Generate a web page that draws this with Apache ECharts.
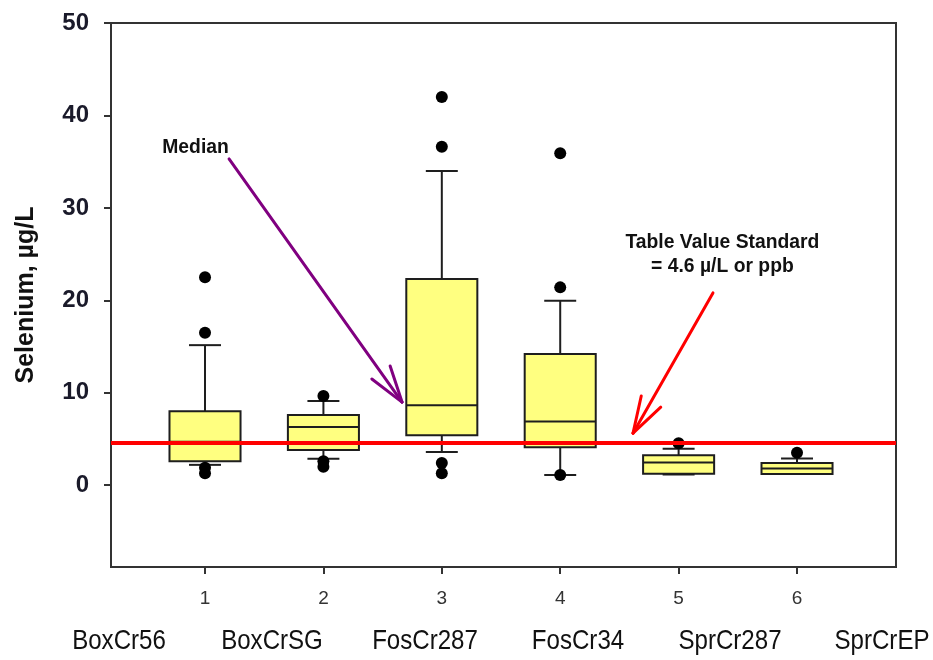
<!DOCTYPE html>
<html>
<head>
<meta charset="utf-8">
<script src="https://cdn.jsdelivr.net/npm/echarts@6/dist/echarts.min.js"></script>
<style>
  html, body { margin: 0; padding: 0; background: #ffffff; }
  #chart { width: 933px; height: 660px; }
</style>
</head>
<body>
<div id="chart"></div>
<script>
// Sampling sites and x tick labels
const tickLabels = ['1', '2', '3', '4', '5', '6'];
const sites = ['BoxCr56', 'BoxCrSG', 'FosCr287', 'FosCr34', 'SprCr287', 'SprCrEP'];

// Box summaries per site (µg/L)
const lowerWhisker = [2.2, 2.85, 3.6, 1.1, 1.15, 1.2];
const q1 = [2.6, 3.8, 5.4, 4.1, 1.25, 1.2];
const median = [4.7, 6.3, 8.65, 6.9, 2.45, 1.8];
const q3 = [8.0, 7.6, 22.3, 14.2, 3.25, 2.4];
const upperWhisker = [15.15, 9.1, 34.0, 19.95, 3.95, 2.9];

// Outlying samples per site (µg/L)
const outliers = [
  [22.5, 16.5, 1.9, 1.3],
  [9.65, 2.6, 2.0],
  [42.0, 36.6, 2.4, 1.3],
  [35.9, 21.4, 1.1],
  [4.55],
  [3.5]
];

// Table value standard (µg/L)
const standard = 4.6;

const yTicks = [0, 10, 20, 30, 40, 50];

// Callout arrows and their captions, placed in data units
const arrows = [
  { from: [1.203, 35.3], to: [2.664, 8.99], color: '#800080' },
  { from: [5.29, 20.8], to: [4.615, 5.63], color: '#ff0000' }
];
const notes = [
  { text: 'Median', at: [0.92, 36.6] },
  { text: 'Table Value Standard', at: [5.37, 26.3] },
  { text: '= 4.6 µ/L or ppb', at: [5.37, 23.7] }
];

const boxData = sites.map((s, i) => [i + 1, lowerWhisker[i], q1[i], median[i], q3[i], upperWhisker[i]]);
const outlierData = [];
outliers.forEach((vals, i) => vals.forEach(v => outlierData.push([i + 1, v])));

const ink = '#1e1e1e';

function renderBox(params, api) {
  const x = api.value(0);
  const lo = api.coord([x, api.value(1)]);
  const b1 = api.coord([x, api.value(2)]);
  const md = api.coord([x, api.value(3)]);
  const b3 = api.coord([x, api.value(4)]);
  const hi = api.coord([x, api.value(5)]);
  const unit = api.size([1, 0])[0];
  const bw = unit * 0.6;
  const cw = unit * 0.27;
  const cx = lo[0];
  const ls = { stroke: ink, lineWidth: 2 };
  return {
    type: 'group',
    children: [
      { type: 'line', shape: { x1: cx, y1: hi[1], x2: cx, y2: b3[1] }, style: ls },
      { type: 'line', shape: { x1: cx - cw / 2, y1: hi[1], x2: cx + cw / 2, y2: hi[1] }, style: ls },
      { type: 'line', shape: { x1: cx, y1: b1[1], x2: cx, y2: lo[1] }, style: ls },
      { type: 'line', shape: { x1: cx - cw / 2, y1: lo[1], x2: cx + cw / 2, y2: lo[1] }, style: ls },
      { type: 'rect', shape: { x: cx - bw / 2, y: b3[1], width: bw, height: b1[1] - b3[1] },
        style: { fill: '#ffff80', stroke: ink, lineWidth: 2 } },
      { type: 'line', shape: { x1: cx - bw / 2, y1: md[1], x2: cx + bw / 2, y2: md[1] }, style: ls }
    ]
  };
}

function renderArrow(params, api) {
  const a = arrows[params.dataIndex];
  const p0 = api.coord(a.from);
  const p1 = api.coord(a.to);
  const ang = Math.atan2(p1[1] - p0[1], p1[0] - p0[0]);
  const len = 38, spread = 0.3;
  const barb = s => [p1[0] - len * Math.cos(ang + s), p1[1] - len * Math.sin(ang + s)];
  const st = { stroke: a.color, lineWidth: 3, lineCap: 'round' };
  const l = barb(spread), r = barb(-spread);
  return {
    type: 'group',
    children: [
      { type: 'line', shape: { x1: p0[0], y1: p0[1], x2: p1[0], y2: p1[1] }, style: st },
      { type: 'line', shape: { x1: l[0], y1: l[1], x2: p1[0], y2: p1[1] }, style: st },
      { type: 'line', shape: { x1: r[0], y1: r[1], x2: p1[0], y2: p1[1] }, style: st }
    ]
  };
}

function renderNote(params, api) {
  const n = notes[params.dataIndex];
  const p = api.coord(n.at);
  return {
    type: 'text', x: p[0], y: p[1], scaleX: 0.92,
    style: {
      text: n.text, fill: '#111', align: 'center', verticalAlign: 'middle',
      font: 'bold 21px "Liberation Sans", Arial, sans-serif'
    }
  };
}

const chart = echarts.init(document.getElementById('chart'), null, { renderer: 'canvas' });

const labelFont = '"Liberation Sans Narrow", "Arial Narrow", "Liberation Sans", sans-serif';
// Site names spread along the bottom edge, horizontally condensed
const siteCenters = [119, 272, 425, 578, 730, 882];

chart.setOption({
  animation: false,
  backgroundColor: '#ffffff',
  grid: {
    left: 111, right: 37, top: 23, bottom: 93,
    show: true, borderColor: '#333', borderWidth: 2, backgroundColor: 'transparent'
  },
  xAxis: {
    type: 'value', min: 0.206, max: 6.836,
    splitLine: { show: false },
    axisLine: { show: true, onZero: false, lineStyle: { color: '#333', width: 2 } },
    axisTick: { show: true, length: 7, lineStyle: { color: '#333', width: 2 }, customValues: [1, 2, 3, 4, 5, 6] },
    axisLabel: {
      customValues: [1, 2, 3, 4, 5, 6],
      formatter: v => tickLabels[Math.round(v) - 1],
      margin: 22, color: '#333', fontSize: 19, fontFamily: labelFont
    }
  },
  yAxis: {
    type: 'value', min: -8.85, max: 50,
    name: 'Selenium, µg/L', nameLocation: 'middle', nameGap: 72, nameRotate: 90,
    nameTextStyle: { fontSize: 25, fontWeight: 'bold', color: '#111', fontFamily: '"Liberation Sans", Arial, sans-serif' },
    splitLine: { show: false },
    axisLine: { show: true, onZero: false, lineStyle: { color: '#333', width: 2 } },
    axisTick: { show: true, length: 7, lineStyle: { color: '#333', width: 2 }, customValues: yTicks },
    axisLabel: {
      customValues: yTicks, margin: 22,
      fontSize: 24, fontWeight: 'bold', color: '#1a1a2a', fontFamily: '"Liberation Sans", Arial, sans-serif'
    }
  },
  graphic: sites.map((s, i) => ({
    type: 'text', x: siteCenters[i], y: 641, scaleX: 0.86,
    style: { text: s, fill: '#111', align: 'center', verticalAlign: 'middle', font: '28px ' + labelFont }
  })),
  series: [
    { type: 'custom', name: 'boxes', renderItem: renderBox, data: boxData, z: 2, encode: { x: 0, y: [1, 2, 3, 4, 5] } },
    { type: 'scatter', name: 'outliers', data: outlierData, symbol: 'circle', symbolSize: 12,
      itemStyle: { color: '#000', opacity: 1 }, z: 3 },
    { type: 'custom', name: 'arrows', renderItem: renderArrow, data: arrows.map((a, i) => [i]), z: 4, clip: false },
    { type: 'custom', name: 'notes', renderItem: renderNote, data: notes.map((n, i) => [i]), z: 4, clip: false },
    { type: 'line', name: 'standard', data: [], z: 5,
      markLine: {
        silent: true, symbol: 'none', label: { show: false },
        lineStyle: { color: '#ff0000', width: 4, type: 'solid' },
        data: [{ yAxis: standard }]
      }
    }
  ]
});
</script>
</body>
</html>
